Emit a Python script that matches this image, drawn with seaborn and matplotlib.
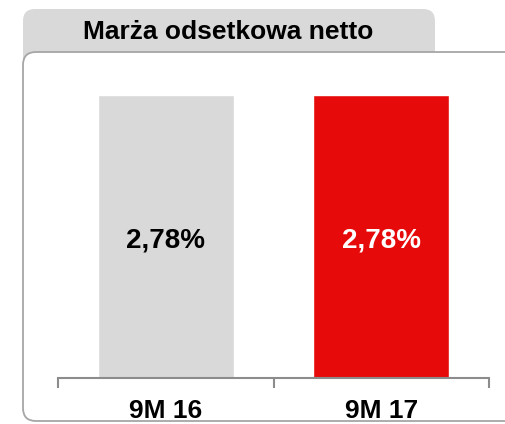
import matplotlib
matplotlib.use("Agg")
import matplotlib.pyplot as plt
from matplotlib.patches import FancyBboxPatch
import seaborn as sns
import pandas as pd

# data
categories = ["9M 16", "9M 17"]
values = [2.78, 2.78]
value_labels = ["2,78%", "2,78%"]
title = "Marża odsetkowa netto"

bar_colors = ["#d9d9d9", "#e60a0a"]
label_colors = ["black", "white"]

sns.set_style("white")
plt.rcParams["font.family"] = ["Liberation Sans", "DejaVu Sans"]
plt.rcParams["text.color"] = "black"

W, H = 505, 424
fig = plt.figure(figsize=(W / 100, H / 100), dpi=100)

# background layer in pixel coords for the tab + rounded frame
bg = fig.add_axes([0, 0, 1, 1])
bg.set_xlim(0, W)
bg.set_ylim(H, 0)
bg.axis("off")
tab = FancyBboxPatch((23, 9), 412, 60, boxstyle="round,pad=0,rounding_size=12",
                     fc="#d9d9d9", ec="none")
bg.add_patch(tab)
frame = FancyBboxPatch((23, 52), 540, 369, boxstyle="round,pad=0,rounding_size=13",
                       fc="white", ec="#a6a6a6", lw=1.3)
bg.add_patch(frame)
bg.text(228, 32, title, ha="center", va="center", fontsize=19,
        fontweight="bold", color="black")

# bar axes: x from 58 to 489 px, baseline at 378 px
y0, y1 = 378, 95
ymax = 3.0
top = y0 - (y0 - y1) * ymax / values[0]
ax = fig.add_axes([58 / W, 1 - y0 / H, (489 - 58) / W, (y0 - top) / H])
ax.patch.set_alpha(0)

df = pd.DataFrame({"cat": categories, "val": values})
sns.barplot(data=df, x="cat", y="val", hue="cat", palette=bar_colors,
            width=0.63, saturation=1, legend=False, ax=ax)

for i, (v, lab) in enumerate(zip(values, value_labels)):
    ax.text(i, v * 0.487, lab, ha="center", va="center", fontsize=20,
            fontweight="bold", color=label_colors[i])

ax.set_xlim(-0.5, 1.5)
ax.set_ylim(0, ymax)
ax.set_xlabel("")
ax.set_ylabel("")
ax.set_yticks([])
for s in ["top", "right", "left"]:
    ax.spines[s].set_visible(False)
ax.spines["bottom"].set_color("#8c8c8c")
ax.spines["bottom"].set_linewidth(1.5)
ax.set_xticks([-0.5, 0.5, 1.5], minor=True)
ax.tick_params(axis="x", which="minor", bottom=True, length=7, width=1.5,
               color="#8c8c8c", direction="out")
ax.tick_params(axis="x", which="major", bottom=True, length=0, pad=15,
               labelsize=19, labelcolor="black")
for t in ax.get_xticklabels():
    t.set_fontweight("bold")

fig.savefig("out.png", dpi=100)
